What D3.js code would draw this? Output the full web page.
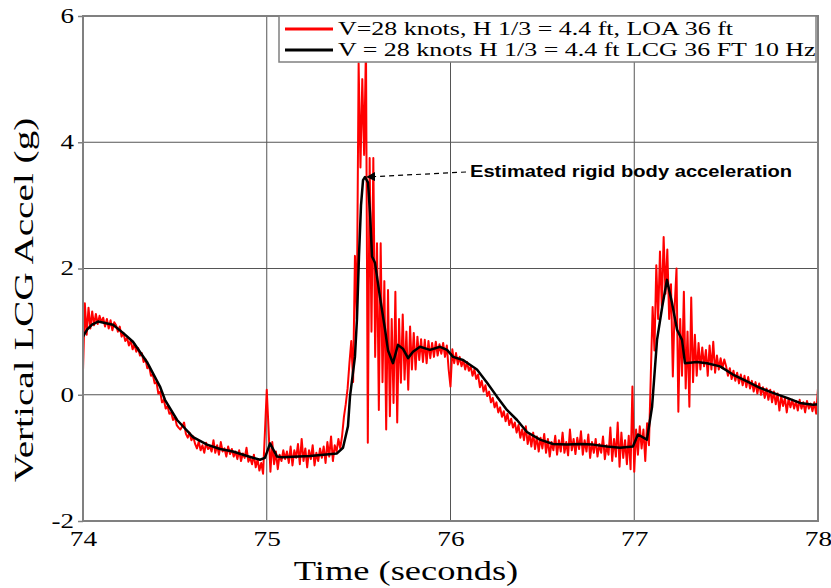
<!DOCTYPE html>
<html>
<head>
<meta charset="utf-8">
<script src="https://cdn.jsdelivr.net/npm/d3@7"></script>
<style>
  body { margin: 0; background: #fff; }
  svg { display: block; }
</style>
</head>
<body>
<svg id="chart" width="831" height="588"></svg>
<script>

// raw accelerometer trace, sampled every 0.01 s from 74.00 s
var redStart = 74.0;
var redStep = 0.01;
var redAccel = [
    0.38, 1.45, 0.95, 1.38, 1.05, 1.32, 1.10, 1.28, 1.12, 1.25,
    1.15, 1.22, 1.08, 1.20, 1.05, 1.18, 1.02, 1.15, 1.10, 1.00,
    1.08, 0.92, 0.98, 0.85, 0.90, 0.78, 0.86, 0.72, 0.80, 0.68,
    0.74, 0.62, 0.66, 0.52, 0.56, 0.42, 0.45, 0.30, 0.32, 0.18,
    0.20, 0.02, 0.05, -0.12, -0.08, -0.22, -0.18, -0.30, -0.28, -0.40,
    -0.35, -0.48, -0.52, -0.55, -0.50, -0.44, -0.62, -0.68, -0.60, -0.72,
    -0.66, -0.78, -0.85, -0.74, -0.88, -0.80, -0.92, -0.76, -0.86, -0.82,
    -0.90, -0.72, -0.92, -0.80, -0.95, -0.75, -0.90, -0.85, -0.98, -0.82,
    -0.94, -0.86, -0.98, -0.90, -1.02, -0.88, -1.05, -0.93, -1.00, -0.84,
    -1.06, -1.00, -1.10, -0.95, -1.15, -1.02, -1.20, -1.08, -1.25, -0.60,
    0.08, -0.55, -1.22, -0.75, -1.10, -0.90, -1.18, -0.95, -1.05, -0.88,
    -1.02, -0.90, -1.08, -0.82, -1.12, -0.88, -1.00, -0.78, -1.10, -0.70,
    -1.05, -0.85, -1.15, -0.88, -1.02, -0.80, -1.12, -0.92, -1.05, -0.85,
    -1.00, -0.82, -1.08, -0.75, -0.98, -0.66, -1.05, -0.80, -0.90, -0.70,
    -0.85, -0.65, -0.35, -0.15, 0.10, 0.50, 0.85, 0.20, 2.20, 1.20,
    5.25, 3.60, 5.00, 3.80, 5.55, -0.76, 3.75, 1.00, 3.75, 0.60,
    2.40, -0.24, 2.40, 0.20, 1.80, -0.55, 1.66, -0.34, 1.20, -0.13,
    1.63, -0.44, 1.20, 0.19, 1.27, 0.24, 1.00, 0.08, 1.08, 0.40,
    0.98, 0.40, 0.92, 0.55, 0.88, 0.52, 0.87, 0.50, 0.85, 0.58,
    0.82, 0.60, 0.84, 0.62, 0.80, 0.65, 0.82, 0.60, 0.78, 0.40,
    0.13, 0.72, 0.50, 0.66, 0.48, 0.60, 0.45, 0.55, 0.40, 0.52,
    0.38, 0.45, 0.30, 0.40, 0.25, 0.32, 0.12, 0.22, 0.05, 0.15,
    -0.02, 0.05, -0.12, -0.05, -0.20, -0.12, -0.28, -0.20, -0.35, -0.26,
    -0.42, -0.30, -0.48, -0.38, -0.52, -0.44, -0.60, -0.48, -0.68, -0.55,
    -0.72, -0.50, -0.78, -0.62, -0.82, -0.60, -0.86, -0.66, -0.90, -0.68,
    -0.85, -0.62, -0.92, -0.70, -0.98, -0.75, -0.88, -0.65, -0.95, -0.72,
    -0.90, -0.60, -0.92, -0.75, -0.96, -0.55, -0.88, -0.70, -0.94, -0.68,
    -0.86, -0.58, -0.95, -0.72, -0.90, -0.63, -1.00, -0.75, -0.92, -0.70,
    -0.98, -0.78, -0.92, -0.66, -1.02, -0.80, -0.95, -0.52, -1.05, -0.70,
    -0.98, -0.44, -1.14, -0.60, -1.00, -0.72, -1.10, -0.65, -1.18, 0.13,
    -1.22, -0.55, -0.95, -0.50, -0.85, -0.55, -1.05, -0.45, -0.80, 0.30,
    1.39, 0.70, 2.05, 1.20, 2.27, 1.40, 2.50, 1.60, 2.30, 1.20,
    1.75, 0.29, 1.40, 2.00, -0.27, 1.20, 0.30, 1.63, 0.10, 1.00,
    -0.19, 1.54, 0.20, 0.95, 0.30, 0.82, 0.40, 0.75, 0.45, 0.71,
    0.30, 0.78, 0.40, 0.84, 0.35, 0.62, 0.40, 0.58, 0.42, 0.56,
    0.45, 0.30, 0.42, 0.25, 0.38, 0.22, 0.35, 0.18, 0.32, 0.15,
    0.30, 0.12, 0.28, 0.10, 0.22, 0.05, 0.20, 0.02, 0.18, 0.00,
    0.12, -0.05, 0.10, -0.08, 0.08, -0.12, 0.05, -0.15, 0.02, -0.25,
    -0.02, -0.18, -0.05, -0.28, -0.06, -0.20, -0.08, -0.22, -0.10, -0.25,
    -0.08, -0.22, -0.12, -0.28, -0.10, -0.22, -0.14, -0.26, -0.12, -0.30,
    0.10
];

// 10 Hz filtered trace
var blackTime = [
    74.000, 74.022, 74.049, 74.082, 74.163, 74.218, 74.272, 74.348, 74.419, 74.446,
    74.512, 74.599, 74.675, 74.746, 74.816, 74.893, 74.963, 74.990, 75.018, 75.056,
    75.083, 75.235, 75.382, 75.415, 75.442, 75.453, 75.480, 75.491, 75.502, 75.513,
    75.524, 75.535, 75.551, 75.562, 75.573, 75.589, 75.616, 75.644, 75.660, 75.687,
    75.714, 75.741, 75.769, 75.796, 75.834, 75.888, 75.943, 75.981, 76.014, 76.068,
    76.144, 76.199, 76.253, 76.307, 76.362, 76.416, 76.487, 76.558, 76.634, 76.705,
    76.776, 76.852, 76.922, 76.993, 77.020, 77.069, 77.097, 77.124, 77.152, 77.178,
    77.205, 77.233, 77.260, 77.276, 77.341, 77.396, 77.467, 77.537, 77.614, 77.684,
    77.755, 77.831, 77.902, 77.973, 78.000
];
var blackAccel = [
    0.92, 1.03, 1.11, 1.16, 1.11, 0.98, 0.84, 0.52, 0.13, -0.08,
    -0.40, -0.67, -0.79, -0.86, -0.90, -0.97, -1.03, -1.00, -0.77, -0.98,
    -0.99, -0.97, -0.93, -0.84, -0.50, -0.03, 0.60, 1.20, 2.20, 3.00,
    3.40, 3.45, 3.36, 2.88, 2.19, 2.09, 1.55, 1.03, 0.70, 0.50,
    0.79, 0.73, 0.58, 0.68, 0.76, 0.71, 0.76, 0.71, 0.60, 0.55,
    0.40, 0.19, -0.03, -0.24, -0.40, -0.59, -0.71, -0.78, -0.79, -0.78,
    -0.79, -0.82, -0.84, -0.82, -0.63, -0.71, -0.19, 0.87, 1.39, 1.82,
    1.46, 1.03, 0.87, 0.50, 0.52, 0.50, 0.45, 0.32, 0.21, 0.11,
    0.03, -0.05, -0.13, -0.16, -0.15
];

var xTicks = [74, 75, 76, 77, 78];
var yTicks = [-2, 0, 2, 4, 6];

var legendLabels = [
    "V=28 knots, H 1/3 = 4.4 ft, LOA 36 ft",
    "V = 28 knots H 1/3 = 4.4 ft LCG 36 FT 10 Hz"
];
var legendColors = ["#ff0000", "#000000"];

var noteText = "Estimated rigid body acceleration";
var notePoint = [75.535, 3.45];


// widen text horizontally, the source picture is stretched
function widen(sel, factor) {
    sel.each(function () {
        var w = this.getComputedTextLength();
        d3.select(this)
            .attr("textLength", w * factor)
            .attr("lengthAdjust", "spacingAndGlyphs");
    });
}


class AccelChart {

    constructor(id) {
        this.svg = d3.select("#" + id);

        // plot box
        this.left = 83;
        this.right = 818;
        this.top = 16;
        this.bottom = 521;

        this.serif = "'Liberation Serif', 'Times New Roman', serif";
        this.sans = "'Liberation Sans', Arial, sans-serif";
    }

    setup() {
        this.computeScales();
        this.drawGrid();
        this.drawLines();
        this.drawFrame();
        this.drawAxes();
        this.drawLegend();
        this.drawNote();
    }

    computeScales() {
        this.x = d3.scaleLinear().domain([74, 78]).range([this.left, this.right]);
        this.y = d3.scaleLinear().domain([-2, 6]).range([this.bottom, this.top]);
    }

    drawGrid() {
        var g = this.svg.append("g");

        g.selectAll(".vgrid")
            .data(xTicks.slice(1, -1))
            .enter().append("line")
            .attr("x1", d => this.x(d)).attr("x2", d => this.x(d))
            .attr("y1", this.top).attr("y2", this.bottom)
            .attr("stroke", "#555").attr("stroke-width", 1);

        g.selectAll(".hgrid")
            .data(yTicks.slice(1, -1))
            .enter().append("line")
            .attr("x1", this.left).attr("x2", this.right)
            .attr("y1", d => this.y(d)).attr("y2", d => this.y(d))
            .attr("stroke", "#555").attr("stroke-width", 1);
    }

    drawLines() {
        var red = redAccel.map((v, i) => [redStart + i * redStep, v]);
        var black = blackTime.map((t, i) => [t, blackAccel[i]]);

        var line = d3.line()
            .x(d => this.x(d[0]))
            .y(d => this.y(d[1]));

        this.svg.append("path")
            .attr("d", line(red))
            .attr("fill", "none")
            .attr("stroke", "#ff0000")
            .attr("stroke-width", 2)
            .attr("stroke-linejoin", "round");

        this.svg.append("path")
            .attr("d", line(black))
            .attr("fill", "none")
            .attr("stroke", "#000")
            .attr("stroke-width", 2.5)
            .attr("stroke-linejoin", "round");
    }

    drawFrame() {
        this.svg.append("rect")
            .attr("x", this.left).attr("y", this.top)
            .attr("width", this.right - this.left)
            .attr("height", this.bottom - this.top)
            .attr("fill", "none")
            .attr("stroke", "#808080")
            .attr("stroke-width", 2);
    }

    drawAxes() {
        var fmt = d => String(d);

        var yAxis = d3.axisLeft(this.y).tickValues(yTicks).tickFormat(fmt)
            .tickSize(5).tickPadding(4);
        var gy = this.svg.append("g")
            .attr("transform", "translate(" + this.left + ",0)")
            .call(yAxis);
        gy.select(".domain").remove();
        gy.selectAll("line").attr("stroke", "#808080").attr("stroke-width", 1.5);
        gy.selectAll("text")
            .attr("font-family", this.serif)
            .attr("font-size", "20px")
            .attr("fill", "#000");
        widen(gy.selectAll("text"), 1.35);

        var xAxis = d3.axisBottom(this.x).tickValues(xTicks).tickFormat(fmt)
            .tickSize(0).tickPadding(10);
        var gx = this.svg.append("g")
            .attr("transform", "translate(0," + this.bottom + ")")
            .call(xAxis);
        gx.select(".domain").remove();
        gx.selectAll("text")
            .attr("font-family", this.serif)
            .attr("font-size", "21px")
            .attr("fill", "#000");
        widen(gx.selectAll("text"), 1.3);

        var xt = this.svg.append("text")
            .attr("x", 406)
            .attr("y", 580)
            .attr("text-anchor", "middle")
            .attr("font-family", this.serif)
            .attr("font-size", "27px")
            .text("Time (seconds)");
        widen(xt, 1.35);

        var yt = this.svg.append("text")
            .attr("transform", "translate(33,300) rotate(-90)")
            .attr("text-anchor", "middle")
            .attr("font-family", this.serif)
            .attr("font-size", "28px")
            .text("Vertical LCG Accel (g)");
        widen(yt, 1.4);
    }

    drawLegend() {
        var box = { x: 279, y: this.top, w: 537, h: 46 };

        this.svg.append("rect")
            .attr("x", box.x).attr("y", box.y)
            .attr("width", box.w).attr("height", box.h)
            .attr("fill", "#fff")
            .attr("stroke", "#808080")
            .attr("stroke-width", 1.5);

        for (var idx = 0; idx < legendLabels.length; idx += 1) {
            var cy = box.y + 13 + idx * 21;

            this.svg.append("line")
                .attr("x1", box.x + 6).attr("x2", box.x + 54)
                .attr("y1", cy).attr("y2", cy)
                .attr("stroke", legendColors[idx])
                .attr("stroke-width", 3);

            var t = this.svg.append("text")
                .attr("x", box.x + 59)
                .attr("y", cy + 6)
                .attr("font-family", this.serif)
                .attr("font-size", "18px")
                .attr("fill", "#000")
                .text(legendLabels[idx]);
            widen(t, 1.44);
        }
    }

    drawNote() {
        var px = this.x(notePoint[0]) + 2;
        var py = this.y(notePoint[1]);

        this.svg.append("defs").append("marker")
            .attr("id", "arrow")
            .attr("viewBox", "0 0 10 10")
            .attr("refX", 9).attr("refY", 5)
            .attr("markerWidth", 9).attr("markerHeight", 9)
            .attr("markerUnits", "userSpaceOnUse")
            .attr("orient", "auto")
            .append("path")
            .attr("d", "M0,0 L10,5 L0,10 z")
            .attr("fill", "#000");

        this.svg.append("line")
            .attr("x1", 466).attr("y1", 172)
            .attr("x2", px).attr("y2", py)
            .attr("stroke", "#000")
            .attr("stroke-width", 1.2)
            .attr("stroke-dasharray", "5,4")
            .attr("marker-end", "url(#arrow)");

        var t = this.svg.append("text")
            .attr("x", 470)
            .attr("y", 177)
            .attr("font-family", this.sans)
            .attr("font-weight", "bold")
            .attr("font-size", "16.5px")
            .attr("fill", "#000")
            .text(noteText);
        widen(t, 1.22);
    }
}

var chart = new AccelChart("chart");
chart.setup();

</script>
</body>
</html>
